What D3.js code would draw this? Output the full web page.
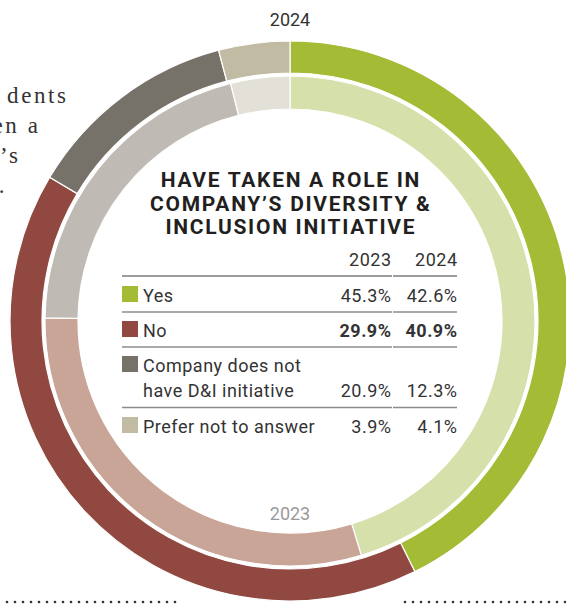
<!DOCTYPE html>
<html>
<head>
<meta charset="utf-8">
<script src="https://cdn.jsdelivr.net/npm/d3@7"></script>
<style>
  html, body { margin: 0; padding: 0; background: #fff; }
  svg { display: block; }
</style>
</head>
<body>
<svg id="chart" width="566" height="605"></svg>
<script>
// Survey answers: have taken a role in the company's D&I initiative
const categories = ["Yes", "No", "Company does not have D&I initiative", "Prefer not to answer"];
const rowLabels = [["Yes"], ["No"], ["Company does not", "have D&I initiative"], ["Prefer not to answer"]];
const values2023 = [45.3, 29.9, 20.9, 3.9];
const values2024 = [42.6, 40.9, 12.3, 4.1];
const years = ["2023", "2024"];
const boldRow = "No";
const titleLines = ["HAVE TAKEN A ROLE IN", "COMPANY\u2019S DIVERSITY &", "INCLUSION INITIATIVE"];
const sideText = ["dents", "en a", "\u2019s", "."];

const colors2024 = ["#a3bb35", "#904840", "#76726a", "#c2bba3"];
const colors2023 = ["#d6e0ab", "#c9a598", "#c0bab4", "#e3e0d8"];

const svg = d3.select("#chart");
const cx = 290, cy = 321;

// Ring geometry
const outerArc = d3.arc().innerRadius(248).outerRadius(280);
const innerArc = d3.arc().innerRadius(212).outerRadius(245);
const pie = d3.pie().sort(null).value(d => d.v).startAngle(0).endAngle(2 * Math.PI);

const rings = svg.append("g").attr("transform", `translate(${cx},${cy})`);

rings.selectAll("path.y2024")
  .data(pie(categories.map((c, i) => ({ c, v: values2024[i], i }))))
  .join("path")
  .attr("class", "y2024")
  .attr("d", outerArc)
  .attr("fill", d => colors2024[d.data.i])
  .attr("stroke", "#fff")
  .attr("stroke-width", 1.2);

rings.selectAll("path.y2023")
  .data(pie(categories.map((c, i) => ({ c, v: values2023[i], i }))))
  .join("path")
  .attr("class", "y2023")
  .attr("d", innerArc)
  .attr("fill", d => colors2023[d.data.i])
  .attr("stroke", "#fff")
  .attr("stroke-width", 1.2);

// Ring year labels
svg.append("text")
  .attr("x", cx).attr("y", 26)
  .attr("text-anchor", "middle")
  .attr("font-family", "Roboto, sans-serif")
  .attr("font-size", 18)
  .attr("fill", "#333")
  .text(years[1]);

svg.append("text")
  .attr("x", cx).attr("y", 520)
  .attr("text-anchor", "middle")
  .attr("font-family", "Roboto, sans-serif")
  .attr("font-size", 18)
  .attr("fill", "#9a9a9a")
  .text(years[0]);

// Title
const titleSpacing = 1.7;
const title = svg.append("g");
titleLines.forEach((t, i) => {
  title.append("text")
    .attr("x", cx + titleSpacing / 2).attr("y", 187 + i * 23.5)
    .attr("text-anchor", "middle")
    .attr("font-family", "Roboto, sans-serif")
    .attr("font-weight", 700)
    .attr("font-size", 21)
    .attr("letter-spacing", titleSpacing)
    .attr("fill", "#231f20")
    .text(t);
});

// Table
const tx0 = 122, tx1 = 457, col23 = 391, col24 = 457;
const tspacing = 0.5;
const table = svg.append("g")
  .attr("font-family", "Roboto, sans-serif")
  .attr("font-size", 18)
  .attr("letter-spacing", tspacing)
  .attr("fill", "#333");

years.forEach((y, i) => {
  table.append("text")
    .attr("x", (i === 0 ? col23 : col24) + tspacing).attr("y", 266)
    .attr("text-anchor", "end")
    .text(y);
});

// Horizontal rules (split at the column gap)
const rules = [
  { y: 276, color: "#3d3d3d", w: 1.2 },
  { y: 312, color: "#8c8c8c", w: 1.5 },
  { y: 347, color: "#8c8c8c", w: 1.5 },
  { y: 407.5, color: "#8c8c8c", w: 1.5 }
];
rules.forEach(r => {
  [[tx0, col23 + 1], [col23 + 2, tx1]].forEach(([a, b]) => {
    table.append("line")
      .attr("x1", a).attr("x2", b)
      .attr("y1", r.y).attr("y2", r.y)
      .attr("stroke", r.color).attr("stroke-width", r.w);
  });
});

const rowBase = [302, 337, 372, 433];
categories.forEach((c, i) => {
  const lines = rowLabels[i];
  const top = rowBase[i];
  table.append("rect")
    .attr("x", tx0).attr("y", top - 16)
    .attr("width", 16).attr("height", 16)
    .attr("fill", colors2024[i]);
  lines.forEach((l, k) => {
    table.append("text")
      .attr("x", 143).attr("y", top + k * 25)
      .text(l);
  });
  const vy = top + (lines.length - 1) * 25;
  const bold = c === boldRow ? 700 : 400;
  table.append("text")
    .attr("x", col23 + tspacing).attr("y", vy)
    .attr("text-anchor", "end")
    .attr("font-weight", bold)
    .text(values2023[i].toFixed(1) + "%");
  table.append("text")
    .attr("x", col24 + tspacing).attr("y", vy)
    .attr("text-anchor", "end")
    .attr("font-weight", bold)
    .text(values2024[i].toFixed(1) + "%");
});

// Running text on the left margin
const sideEnds = [66, 38, 18, 4.5];
const sideSpacing = 2.6;
sideText.forEach((t, i) => {
  svg.append("text")
    .attr("x", sideEnds[i] + sideSpacing).attr("y", 103 + i * 30)
    .attr("text-anchor", "end")
    .attr("font-family", "Liberation Serif, serif")
    .attr("font-size", 23)
    .attr("letter-spacing", sideSpacing)
    .attr("fill", "#333")
    .text(t);
});

// Dotted rules at the foot
const dots = svg.append("g").attr("fill", "#333");
d3.range(7, 176, 8).concat(d3.range(405, 566, 8)).forEach(x => {
  dots.append("circle").attr("cx", x).attr("cy", 602).attr("r", 1.3);
});
</script>
</body>
</html>
